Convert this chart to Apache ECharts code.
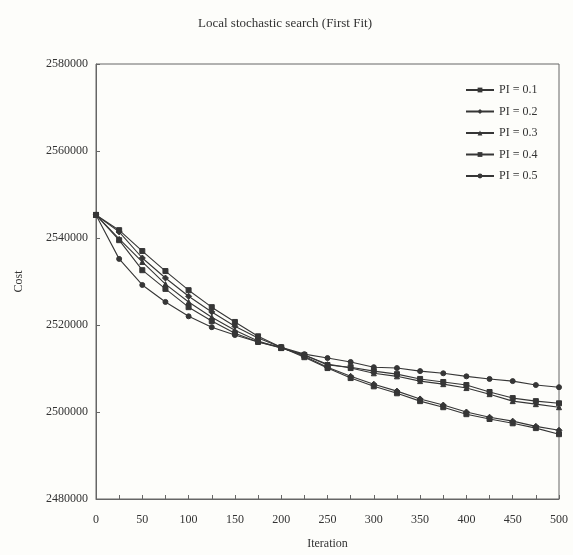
<!DOCTYPE html>
<html>
<head>
<meta charset="utf-8">
<script src="https://cdn.jsdelivr.net/npm/echarts@6/dist/echarts.min.js"></script>
<style>
html,body{margin:0;padding:0;background:#fdfdfa;}
#chart{width:573px;height:555px;}
</style>
</head>
<body>
<div id="chart"></div>
<script>
const iterations = [0,25,50,75,100,125,150,175,200,225,250,275,300,325,350,375,400,425,450,475,500];
const seriesNames = ['PI = 0.1','PI = 0.2','PI = 0.3','PI = 0.4','PI = 0.5'];
const pi01 = [2545300,2541800,2537000,2532400,2528000,2524100,2520700,2517400,2514900,2512600,2510100,2507800,2505900,2504300,2502500,2501100,2499500,2498400,2497400,2496300,2494900];
const pi02 = [2545300,2541400,2535400,2530800,2526600,2523000,2519700,2517000,2514900,2512800,2510300,2508200,2506400,2504800,2503000,2501600,2500000,2498800,2497900,2496700,2495800];
const pi03 = [2545300,2539800,2534500,2529400,2525300,2521800,2518800,2516300,2514700,2513100,2511000,2510100,2508900,2508200,2507100,2506400,2505500,2504100,2502500,2501800,2501100];
const pi04 = [2545300,2539500,2532600,2528300,2524100,2520900,2518100,2516100,2514700,2513100,2510800,2510300,2509400,2508700,2507600,2506900,2506200,2504600,2503200,2502500,2502000];
const pi05 = [2545300,2535200,2529200,2525300,2522000,2519500,2517700,2516100,2514900,2513300,2512400,2511500,2510300,2510100,2509400,2508900,2508200,2507600,2507100,2506200,2505700];
const yTicks = {min:2480000, max:2580000, step:20000};
const xTicks = {min:0, max:500, step:50};

const allValues = [pi01, pi02, pi03, pi04, pi05];
const symbols = ['rect','diamond','triangle','rect','circle'];
const symbolSizes = [5,6,5,5,5];
const font = '"Liberation Serif", "DejaVu Serif", serif';
const ink = '#363636';
const txt = '#333';

const chart = echarts.init(document.getElementById('chart'));
chart.setOption({
  backgroundColor: '#fdfdfa',
  animation: false,
  title: {
    text: 'Local stochastic search (First Fit)',
    left: 193, top: 12,
    textStyle: {fontFamily: font, fontSize: 13, fontWeight: 'normal', color: txt}
  },
  legend: {
    data: seriesNames,
    orient: 'vertical',
    left: 460, top: 79,
    itemWidth: 28, itemHeight: 6, itemGap: 9.5,
    textStyle: {fontFamily: font, fontSize: 12, color: txt}
  },
  grid: {
    left: 96, right: 14, top: 64, bottom: 56,
    show: true, borderColor: '#666', borderWidth: 1, backgroundColor: 'transparent'
  },
  xAxis: {
    type: 'value',
    min: xTicks.min, max: xTicks.max, interval: xTicks.step,
    name: 'Iteration', nameLocation: 'middle', nameGap: 39,
    nameTextStyle: {fontFamily: font, fontSize: 12, color: txt},
    axisLine: {show: true, lineStyle: {color: '#666'}},
    axisTick: {show: true, inside: true, length: 4, lineStyle: {color: '#666'}},
    minorTick: {show: true, splitNumber: 2, length: 4, lineStyle: {color: '#666'}},
    axisLabel: {fontFamily: font, fontSize: 12, color: txt, margin: 15},
    splitLine: {show: false}
  },
  yAxis: {
    type: 'value',
    min: yTicks.min, max: yTicks.max, interval: yTicks.step,
    name: 'Cost', nameLocation: 'middle', nameGap: 71, nameRotate: 90,
    nameTextStyle: {fontFamily: font, fontSize: 12, color: txt},
    axisLine: {show: true, lineStyle: {color: '#666'}},
    axisTick: {show: true, inside: true, length: 4, lineStyle: {color: '#666'}},
    axisLabel: {fontFamily: font, fontSize: 12, color: txt, margin: 8,
      formatter: v => String(v)},
    splitLine: {show: false}
  },
  series: seriesNames.map((name, i) => ({
    name: name,
    type: 'line',
    data: iterations.map((x, j) => [x, allValues[i][j]]),
    symbol: symbols[i],
    symbolSize: symbolSizes[i],
    showAllSymbol: true,
    itemStyle: {color: ink, borderColor: ink},
    lineStyle: {color: ink, width: 1.1}
  }))
});
</script>
</body>
</html>
